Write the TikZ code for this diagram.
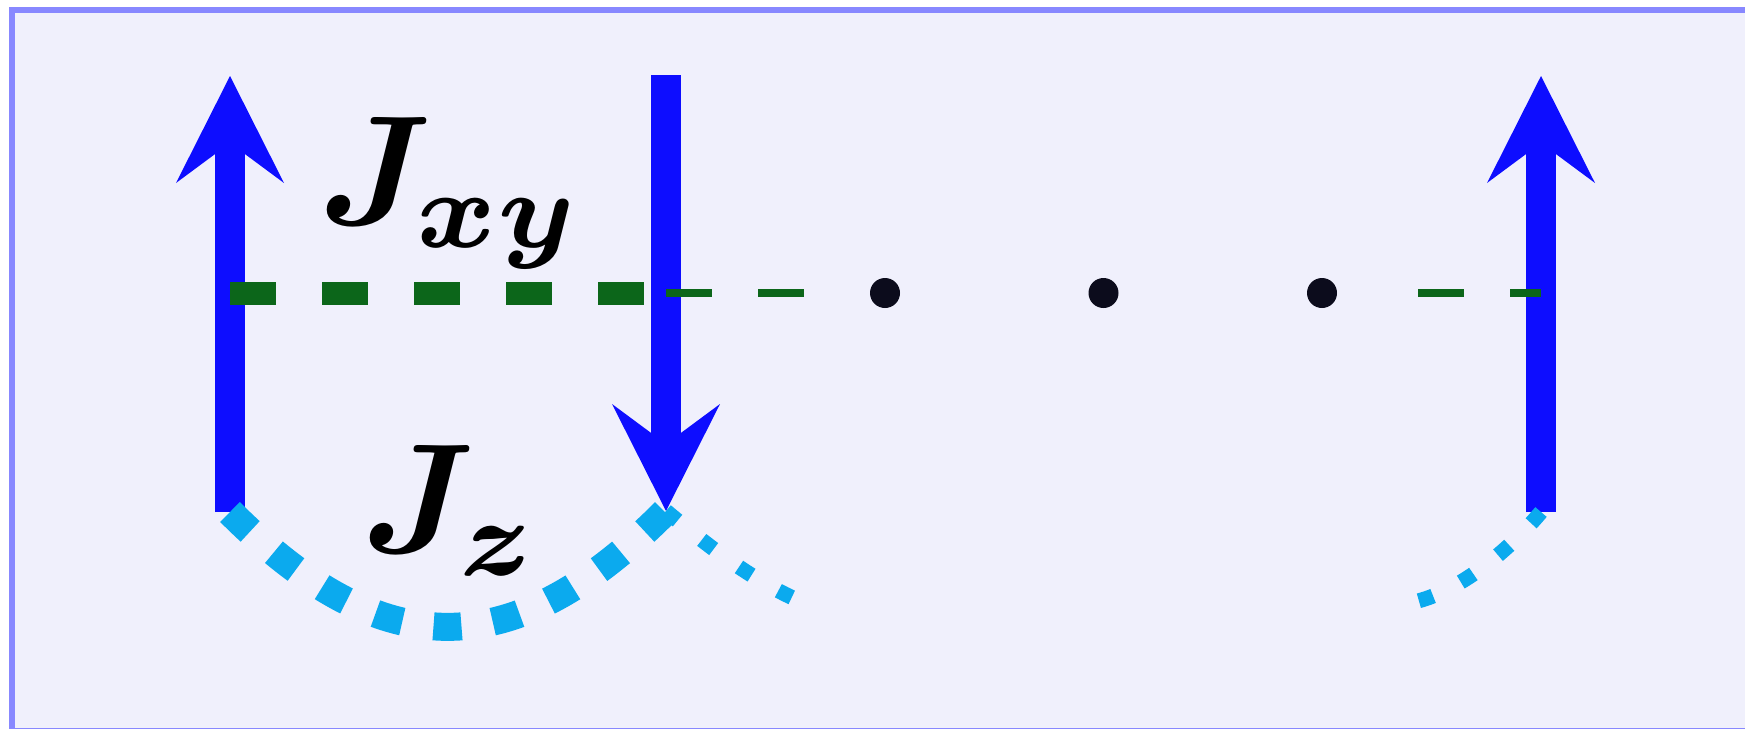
\RequirePackage{fix-cm}
\documentclass[tikz,border=0pt]{standalone}
\usetikzlibrary{arrows.meta}
\definecolor{bgc}{RGB}{240,240,252}
\definecolor{framec}{RGB}{136,136,255}
\definecolor{spinc}{RGB}{13,13,255}
\definecolor{xyc}{RGB}{12,102,26}
\definecolor{zc}{RGB}{11,170,238}
\definecolor{dotc}{RGB}{12,12,28}
\begin{document}
\begin{tikzpicture}[x=0.5pt,y=-0.5pt,
  spin/.style={draw=spinc, line width=15pt, -{Stealth[length=53.5pt, width=54pt, inset=20pt, line width=0pt]}},
  xythick/.style={draw=xyc, line width=11.5pt, dash pattern=on 23pt off 23pt},
  xythin/.style={draw=xyc, line width=4pt, dash pattern=on 23pt off 23pt},
  zthick/.style={draw=zc, line width=14pt, dash pattern=on 14pt off 15.8pt},
  zthin/.style={draw=zc, line width=7.5pt, dash pattern=on 7.5pt off 15.5pt},
  sitedot/.style={circle, fill=dotc, minimum size=15pt, inner sep=0pt},
  lbl/.style={anchor=base west, inner sep=0pt, scale=7.8, font=\fontsize{10}{12}\selectfont\boldmath}]
\useasboundingbox (0,0) rectangle (1745,728);
\fill[white] (0,0) rectangle (1745,728);
\filldraw[fill=bgc, draw=framec, line width=3pt] (12,10) rectangle (1765,731);
% spin arrows
\coordinate (a1) at (230,512);
\coordinate (a1t) at (230,76);
\coordinate (a2) at (666,75);
\coordinate (a2t) at (666,511);
\coordinate (a3) at (1541,512);
\coordinate (a3t) at (1541,76);
\draw[spin] (a1) -- (a1t);
\draw[spin] (a2) -- (a2t);
\draw[spin] (a3) -- (a3t);
% xy bonds
\coordinate (h1) at (230,293);
\coordinate (h2) at (666,293);
\coordinate (h3) at (804,293);
\coordinate (h4) at (1418,293);
\coordinate (h5) at (1541,293);
\draw[xythick] (h1) -- (h2);
\draw[xythin] (h2) -- (h3);
\draw[xythin] (h4) -- (h5);
% dots
\node[sitedot] (d1) at (885,293) {};
\node[sitedot] (d2) at (1103.5,293) {};
\node[sitedot] (d3) at (1322,293) {};
% z bonds
\coordinate (e1) at (793,598);
\coordinate (e2) at (1418,601);
\draw[zthick] (a1) .. controls (383.3,665.3) and (512.7,665.3) .. (a2t);
\draw[zthin] (a2t) .. controls (704.3,543.1) and (747.7,576.9) .. (e1);
\draw[zthin] (a3) .. controls (1508.9,550.3) and (1461.5,589.4) .. (e2);
% labels
\node[lbl] (jxy) at (315,224) {$J_{xy}$};
\node[lbl] (jz) at (358,552) {$J_z$};
\end{tikzpicture}
\end{document}
